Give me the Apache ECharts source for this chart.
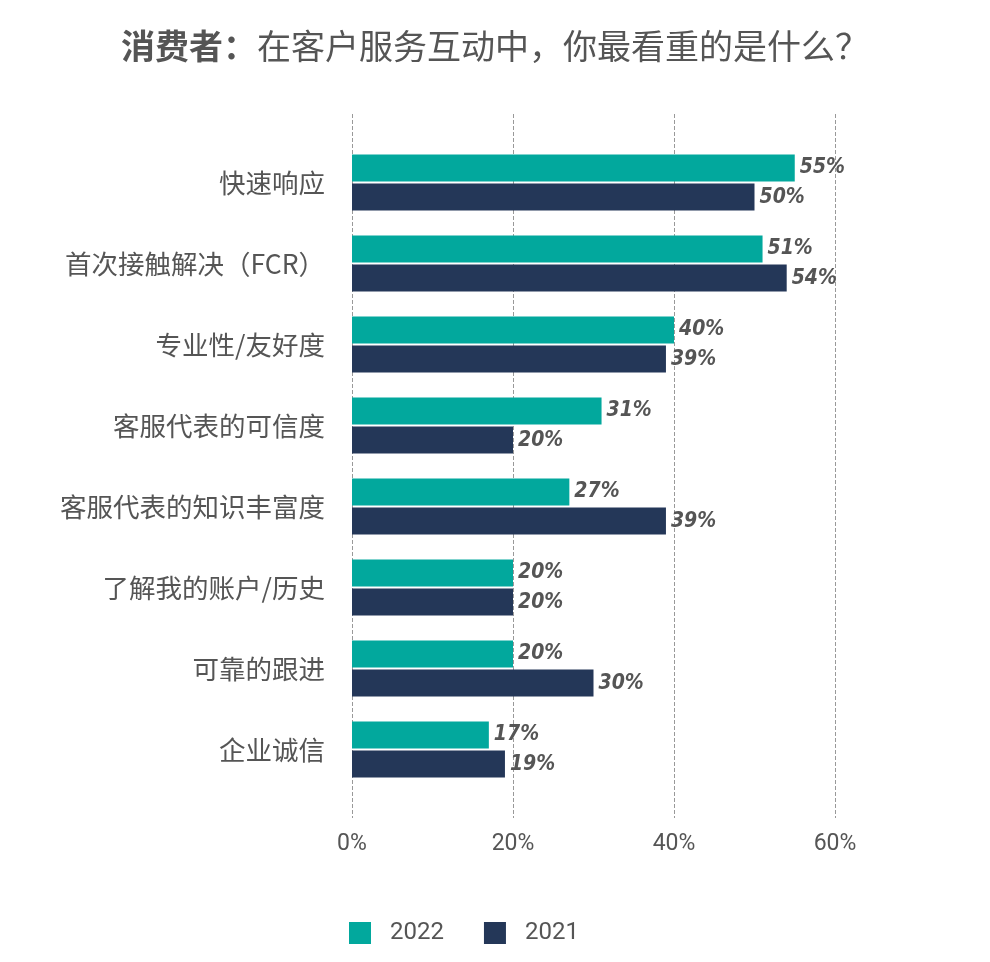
<!DOCTYPE html>
<html>
<head>
<meta charset="utf-8">
<script src="https://cdn.jsdelivr.net/npm/echarts@6/dist/echarts.min.js"></script>
<style>
  html, body { margin: 0; padding: 0; background: #fff; }
  #chart { width: 990px; height: 962px; }
</style>
</head>
<body>
<div id="chart"></div>
<script>
// 数据
const categories = ['快速响应', '首次接触解决（FCR）', '专业性/友好度', '客服代表的可信度',
  '客服代表的知识丰富度', '了解我的账户/历史', '可靠的跟进', '企业诚信'];
const values2022 = [55, 51, 40, 31, 27, 20, 20, 17];
const values2021 = [50, 54, 39, 20, 39, 20, 30, 19];
const xTicks = [0, 20, 40, 60];

const cjk = '"Noto Sans CJK SC", "Noto Sans", sans-serif';
const textGray = '#555555';

let chart = echarts.init(document.getElementById('chart'));

const labelStyle = {
  show: true,
  position: 'right',
  distance: 5,
  formatter: '{c}%',
  color: textGray,
  fontSize: 21,
  fontWeight: 'bold',
  fontStyle: 'italic',
  fontFamily: '"DejaVu Sans Condensed", sans-serif'
};

chart.setOption({
  title: {
    text: '{b|消费者：}{n|在客户服务互动中，你最看重的是什么？}',
    left: 'center',
    top: 24,
    textStyle: {
      rich: {
        b: { fontSize: 34, fontWeight: 'bold', color: textGray, fontFamily: cjk },
        n: { fontSize: 34, fontWeight: 'normal', color: textGray, fontFamily: cjk }
      }
    }
  },
  legend: {
    left: 344,
    top: 916,
    itemWidth: 22,
    itemHeight: 22,
    itemGap: 40,
    icon: 'rect',
    data: ['2022', '2021'],
    textStyle: { fontSize: 24, color: textGray, fontFamily: 'Roboto', padding: [0, 0, 0, 14] }
  },
  grid: [
    // 网格线 + 横轴标签
    { left: 352, right: 155, top: 114, bottom: 144 },
    // 柱子
    { left: 352, right: 155, top: 142, height: 648 }
  ],
  xAxis: [
    {
      gridIndex: 0, type: 'value', min: 0, max: 60, interval: 20,
      axisLine: { show: false }, axisTick: { show: false },
      axisLabel: {
        margin: 15, fontSize: 23, color: textGray, fontFamily: 'Roboto',
        formatter: v => (xTicks.indexOf(v) >= 0 ? v + '%' : '')
      },
      splitLine: { show: true, lineStyle: { type: 'dashed', color: '#999', width: 1 } }
    },
    {
      gridIndex: 1, type: 'value', min: 0, max: 60, interval: 20,
      axisLine: { show: false }, axisTick: { show: false },
      axisLabel: { show: false }, splitLine: { show: false }
    }
  ],
  yAxis: [
    { gridIndex: 0, type: 'category', data: [''], show: false },
    {
      gridIndex: 1, type: 'category', inverse: true, data: categories,
      axisLine: { show: false }, axisTick: { show: false },
      axisLabel: { margin: 27, fontSize: 26.5, color: textGray, fontFamily: cjk }
    }
  ],
  series: [
    {
      name: '2022', type: 'bar', xAxisIndex: 1, yAxisIndex: 1,
      data: values2022, barWidth: 27, barGap: '8%',
      itemStyle: { color: '#02A89D' },
      label: labelStyle
    },
    {
      name: '2021', type: 'bar', xAxisIndex: 1, yAxisIndex: 1,
      data: values2021, barWidth: 27,
      itemStyle: { color: '#243758' },
      label: labelStyle
    }
  ]
});
</script>
</body>
</html>
